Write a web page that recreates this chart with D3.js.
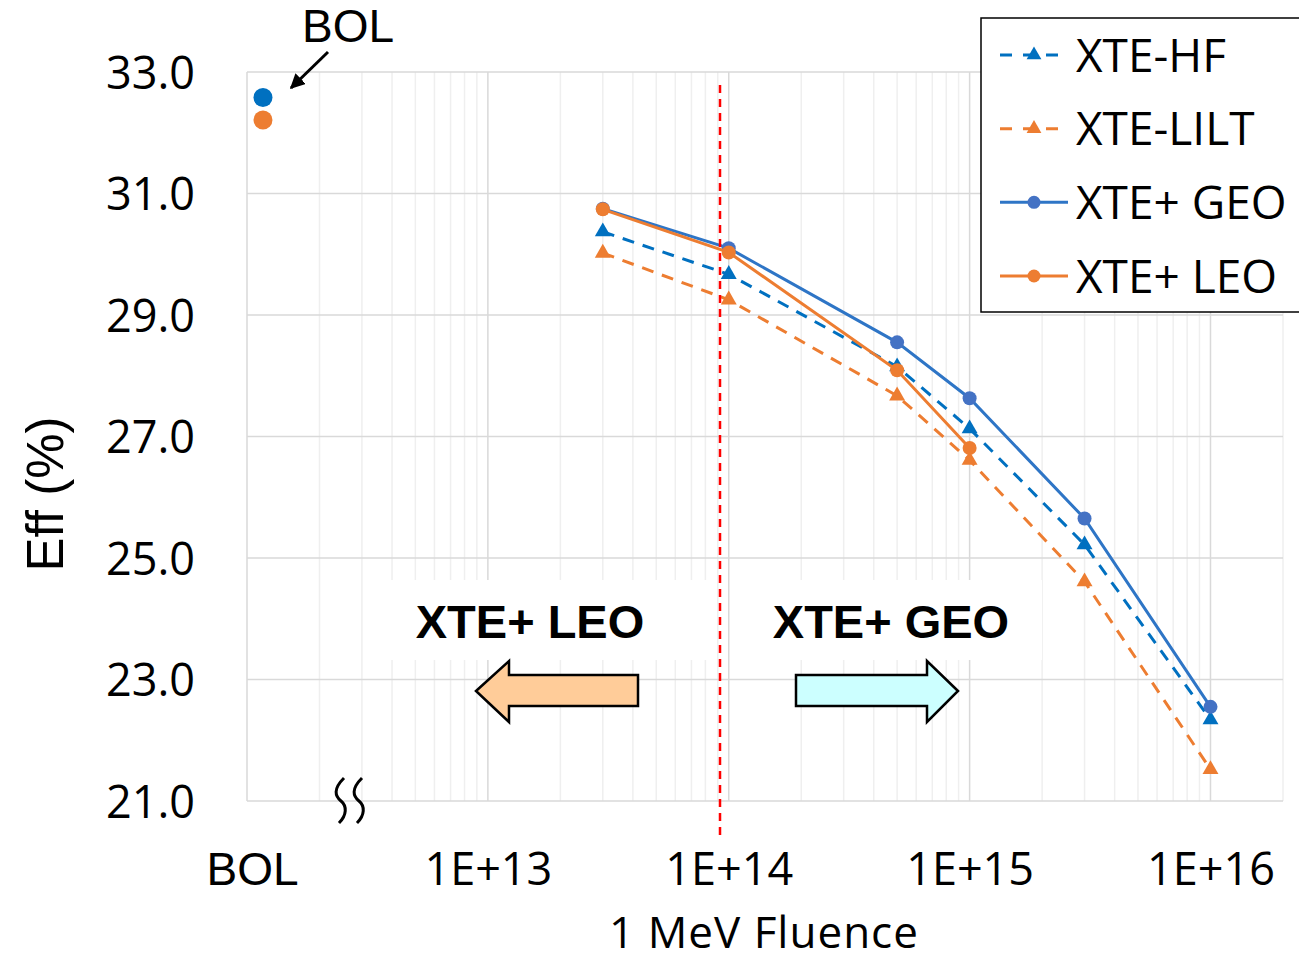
<!DOCTYPE html>
<html>
<head>
<meta charset="utf-8">
<script src="https://cdn.jsdelivr.net/npm/d3@7"></script>
<style>
  body { margin: 0; background: #fff; }
  svg { display: block; }
</style>
</head>
<body>
<div id="chart"></div>
<script>
// fluence values (1 MeV e/cm2) of the measured points
const fluence = [3e13, 1e14, 5e14, 1e15, 3e15, 1e16];
const xteHF = [30.37, 29.67, 28.15, 27.13, 25.22, 22.34];
const xteLILT = [30.02, 29.25, 27.67, 26.61, 24.61, 21.52];
const xteGEO = [30.75, 30.10, 28.55, 27.63, 25.65, 22.55];
const xteLEO = [30.74, 30.03, 28.09, 26.81];

// beginning of life points
const bolFluence = 1.165e12;
const bolEff = [32.58, 32.21];

const yTicks = [21, 23, 25, 27, 29, 31, 33];
const xTickValues = [1e12, 1e13, 1e14, 1e15, 1e16];
const xTickLabels = ["BOL", "1E+13", "1E+14", "1E+15", "1E+16"];
const legendNames = ["XTE-HF", "XTE-LILT", "XTE+ GEO", "XTE+ LEO"];

const width = 1299, height = 962;
const margin = { top: 72, right: 16, bottom: 161, left: 247 };

const svg = d3.select("#chart").append("svg")
  .attr("width", width)
  .attr("height", height);

const x = d3.scaleLog()
  .domain([1e12, 2e16])
  .range([margin.left, width - margin.right]);

const y = d3.scaleLinear()
  .domain([21, 33])
  .range([height - margin.bottom, margin.top]);

const calibri = "'Open Sans', 'Noto Sans', sans-serif";
const arial = "'Liberation Sans', Arial, sans-serif";

// gridlines
const grid = svg.append("g");
grid.selectAll("line.minor")
  .data(x.ticks().filter(d => !xTickValues.includes(d)))
  .enter().append("line")
  .attr("x1", d => x(d)).attr("x2", d => x(d))
  .attr("y1", y(33)).attr("y2", y(21))
  .attr("stroke", "#efefef").attr("stroke-width", 1.5);
grid.selectAll("line.major")
  .data(xTickValues)
  .enter().append("line")
  .attr("x1", d => x(d)).attr("x2", d => x(d))
  .attr("y1", y(33)).attr("y2", y(21))
  .attr("stroke", "#d9d9d9").attr("stroke-width", 1.5);
grid.selectAll("line.h")
  .data(yTicks)
  .enter().append("line")
  .attr("x1", x(1e12)).attr("x2", x(2e16))
  .attr("y1", d => y(d)).attr("y2", d => y(d))
  .attr("stroke", "#d9d9d9").attr("stroke-width", 1.5);

// white text boxes covering the grid
svg.append("rect").attr("x", 390).attr("y", 580).attr("width", 322).attr("height", 80).attr("fill", "#fff");
svg.append("rect").attr("x", 740).attr("y", 580).attr("width", 302).attr("height", 80).attr("fill", "#fff");

// y axis
const yAxis = d3.axisLeft(y)
  .tickValues(yTicks)
  .tickFormat(d3.format(".1f"))
  .tickSize(0)
  .tickPadding(0);
const yg = svg.append("g")
  .attr("transform", "translate(195,0)")
  .call(yAxis);
yg.select(".domain").remove();
yg.selectAll("text")
  .attr("font-family", calibri)
  .attr("font-size", 45)
  .attr("fill", "#000")
  .attr("dy", "0.36em");

// x axis
const xAxis = d3.axisBottom(x)
  .tickValues(xTickValues)
  .tickFormat((d, i) => xTickLabels[i])
  .tickSize(0)
  .tickPadding(0);
const xg = svg.append("g")
  .attr("transform", "translate(0,885)")
  .call(xAxis);
xg.select(".domain").remove();
xg.selectAll("text")
  .attr("font-family", (d, i) => i === 0 ? arial : calibri)
  .attr("font-size", (d, i) => i === 0 ? 46 : 45)
  .attr("fill", "#000")
  .attr("dy", 0)
  .attr("dx", (d, i) => i === 0 ? 5 : 0);

// axis titles
svg.append("text")
  .attr("x", 764).attr("y", 948)
  .attr("text-anchor", "middle")
  .attr("font-family", calibri)
  .attr("font-size", 44)
  .attr("letter-spacing", 1)
  .text("1 MeV Fluence");

svg.append("text")
  .attr("transform", "translate(63,494) rotate(-90)")
  .attr("text-anchor", "middle")
  .attr("font-family", arial)
  .attr("font-size", 51)
  .text("Eff (%)");

// axis break mark
[338, 356].forEach(bx => {
  svg.append("path")
    .attr("d", `M${bx + 6},778 C${bx - 5},789 ${bx - 3},796 ${bx + 3},801 S${bx + 9},815 ${bx + 1},823`)
    .attr("fill", "none")
    .attr("stroke", "#000")
    .attr("stroke-width", 3);
});

// direction arrows
const leftArrow = [[476, 691], [509, 661], [509, 675], [638, 675], [638, 706], [509, 706], [509, 722]];
const rightArrow = [[958, 691], [927, 661], [927, 675], [796, 675], [796, 706], [927, 706], [927, 722]];
svg.append("polygon")
  .attr("points", leftArrow.map(p => p.join(",")).join(" "))
  .attr("fill", "#ffcc99").attr("stroke", "#000").attr("stroke-width", 2.5);
svg.append("polygon")
  .attr("points", rightArrow.map(p => p.join(",")).join(" "))
  .attr("fill", "#ccffff").attr("stroke", "#000").attr("stroke-width", 2.5);

svg.append("text")
  .attr("x", 530).attr("y", 638)
  .attr("text-anchor", "middle")
  .attr("font-family", arial).attr("font-weight", "bold")
  .attr("font-size", 47)
  .text("XTE+ LEO");
svg.append("text")
  .attr("x", 891).attr("y", 638)
  .attr("text-anchor", "middle")
  .attr("font-family", arial).attr("font-weight", "bold")
  .attr("font-size", 47)
  .text("XTE+ GEO");

// series
const series = [
  { name: legendNames[0], values: xteHF, line: "#0070c0", marker: "#0070c0", dash: "12,9", shape: "tri" },
  { name: legendNames[1], values: xteLILT, line: "#ed7d31", marker: "#ed7d31", dash: "12,9", shape: "tri" },
  { name: legendNames[2], values: xteGEO, line: "#2e75c6", marker: "#4472c4", dash: null, shape: "circle" },
  { name: legendNames[3], values: xteLEO, line: "#ed7d31", marker: "#ed7d31", dash: null, shape: "circle" }
];

const line = d3.line()
  .x(d => x(d[0]))
  .y(d => y(d[1]));

const tri = d3.symbol().type(d3.symbolTriangle).size(110);

series.forEach(s => {
  const pts = s.values.map((v, i) => [fluence[i], v]);
  svg.append("path")
    .datum(pts)
    .attr("d", line)
    .attr("fill", "none")
    .attr("stroke", s.line)
    .attr("stroke-width", 3)
    .attr("stroke-dasharray", s.dash);
  if (s.shape === "tri") {
    svg.selectAll(null).data(pts).enter().append("path")
      .attr("d", tri)
      .attr("transform", d => `translate(${x(d[0])},${y(d[1])})`)
      .attr("fill", s.marker);
  } else {
    svg.selectAll(null).data(pts).enter().append("circle")
      .attr("cx", d => x(d[0])).attr("cy", d => y(d[1]))
      .attr("r", 7)
      .attr("fill", s.marker);
  }
});

// BOL points
svg.selectAll("circle.bol")
  .data(bolEff)
  .enter().append("circle")
  .attr("cx", x(bolFluence))
  .attr("cy", d => y(d))
  .attr("r", 9.5)
  .attr("fill", (d, i) => i === 0 ? "#0070c0" : "#ed7d31");

// BOL annotation
svg.append("defs").append("marker")
  .attr("id", "ah")
  .attr("viewBox", "0 0 10 10")
  .attr("refX", 9).attr("refY", 5)
  .attr("markerWidth", 5).attr("markerHeight", 5)
  .attr("orient", "auto")
  .append("path")
  .attr("d", "M0,0 L10,5 L0,10 z")
  .attr("fill", "#000");
svg.append("line")
  .attr("x1", 328).attr("y1", 52)
  .attr("x2", 291).attr("y2", 88)
  .attr("stroke", "#000").attr("stroke-width", 3)
  .attr("marker-end", "url(#ah)");
svg.append("text")
  .attr("x", 348).attr("y", 42)
  .attr("text-anchor", "middle")
  .attr("font-family", arial)
  .attr("font-size", 46)
  .text("BOL");

// boundary between LEO and GEO
svg.append("line")
  .attr("x1", 720).attr("x2", 720)
  .attr("y1", 85).attr("y2", 835)
  .attr("stroke", "#ff0000")
  .attr("stroke-width", 2.5)
  .attr("stroke-dasharray", "8,6");

// legend
const legend = svg.append("g");
legend.append("rect")
  .attr("x", 981).attr("y", 18)
  .attr("width", 340).attr("height", 294)
  .attr("fill", "#fff")
  .attr("stroke", "#000")
  .attr("stroke-width", 1.5);

const rowY = d3.scalePoint().domain(legendNames).range([55, 276]);
const legendTri = d3.symbol().type(d3.symbolTriangle).size(95);

series.forEach(s => {
  const ly = rowY(s.name);
  legend.append("line")
    .attr("x1", 1000).attr("x2", 1068)
    .attr("y1", ly).attr("y2", ly)
    .attr("stroke", s.line)
    .attr("stroke-width", 3)
    .attr("stroke-dasharray", s.dash ? "12,11" : null);
  if (s.shape === "tri") {
    legend.append("path")
      .attr("d", legendTri)
      .attr("transform", `translate(1034,${ly})`)
      .attr("fill", s.marker);
  } else {
    legend.append("circle")
      .attr("cx", 1034).attr("cy", ly)
      .attr("r", 6.5)
      .attr("fill", s.marker);
  }
  legend.append("text")
    .attr("x", 1076).attr("y", ly)
    .attr("dy", "0.36em")
    .attr("font-family", calibri)
    .attr("font-size", 46)
    .text(s.name);
});
</script>
</body>
</html>
